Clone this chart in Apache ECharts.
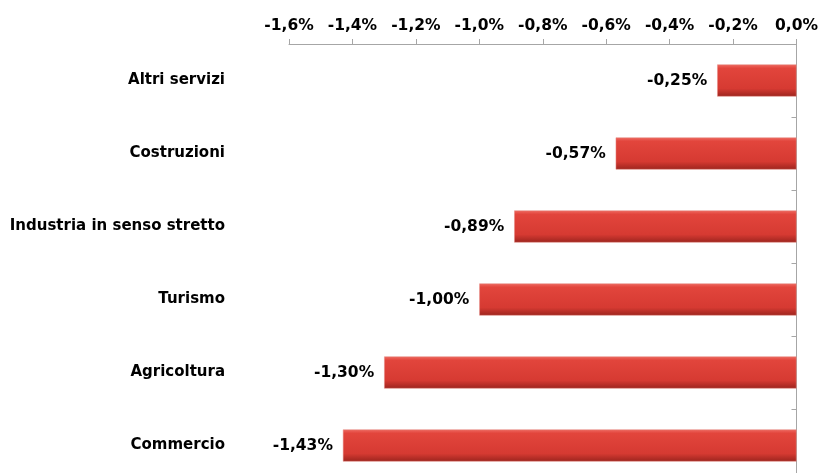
<!DOCTYPE html>
<html>
<head>
<meta charset="utf-8">
<script src="https://cdn.jsdelivr.net/npm/echarts@6/dist/echarts.min.js"></script>
<style>
  html, body { margin: 0; padding: 0; background: #fff; overflow: hidden; }
  /* il grafico originale è tagliato in basso: l'area prosegue oltre la finestra */
  #chart { width: 821px; height: 482px; }
</style>
</head>
<body>
<div id="chart"></div>
<script>
// settori, dall'alto verso il basso
const categories = ['Altri servizi', 'Costruzioni', 'Industria in senso stretto', 'Turismo', 'Agricoltura', 'Commercio'];
// variazione % (valori)
const values = [-0.25, -0.57, -0.89, -1.00, -1.30, -1.43];
// tick asse valori
const axisMin = -1.6;
const axisMax = 0;
const axisStep = 0.2;

const fmt = (v, d) => v.toFixed(d).replace('.', ',') + '%';
const font = 'DejaVu Sans';

const chart = echarts.init(document.getElementById('chart'));

const barColor = new echarts.graphic.LinearGradient(0, 0, 0, 1, [
  { offset: 0, color: '#ef6a62' },
  { offset: 0.12, color: '#e2453c' },
  { offset: 0.75, color: '#d63a32' },
  { offset: 1, color: '#9c241e' }
]);

const option = {
  animation: false,
  grid: { left: 289, right: 24, top: 44, bottom: 0 },
  xAxis: {
    type: 'value',
    position: 'top',
    min: axisMin,
    max: axisMax,
    interval: axisStep,
    axisLine: { show: true, lineStyle: { color: '#a6a6a6' } },
    axisTick: { show: true, length: 5, lineStyle: { color: '#a6a6a6' } },
    splitLine: { show: false },
    axisLabel: {
      margin: 10,
      color: '#000',
      fontFamily: font,
      fontWeight: 'bold',
      fontSize: 15.5,
      formatter: v => fmt(v, 1)
    }
  },
  yAxis: [
    {
      type: 'category',
      data: categories,
      inverse: true,
      position: 'right',
      axisLine: { show: true, onZero: false, lineStyle: { color: '#a6a6a6' } },
      axisTick: { show: true, inside: true, length: 5, lineStyle: { color: '#a6a6a6' } },
      axisLabel: { show: false }
    },
    {
      type: 'category',
      data: categories,
      inverse: true,
      position: 'left',
      axisLine: { show: false },
      axisTick: { show: false },
      axisLabel: {
        margin: 64,
        color: '#000',
        fontFamily: font,
        fontWeight: 'bold',
        fontSize: 15
      }
    }
  ],
  series: [
    {
      type: 'bar',
      data: values,
      barWidth: '44%',
      itemStyle: {
        color: barColor,
        borderColor: '#e58a84',
        borderWidth: 0.5
      },
      label: {
        show: true,
        position: 'left',
        distance: 10,
        color: '#000',
        fontFamily: font,
        fontWeight: 'bold',
        fontSize: 15.5,
        formatter: p => fmt(p.value, 2)
      }
    }
  ]
};

chart.setOption(option);
</script>
</body>
</html>
